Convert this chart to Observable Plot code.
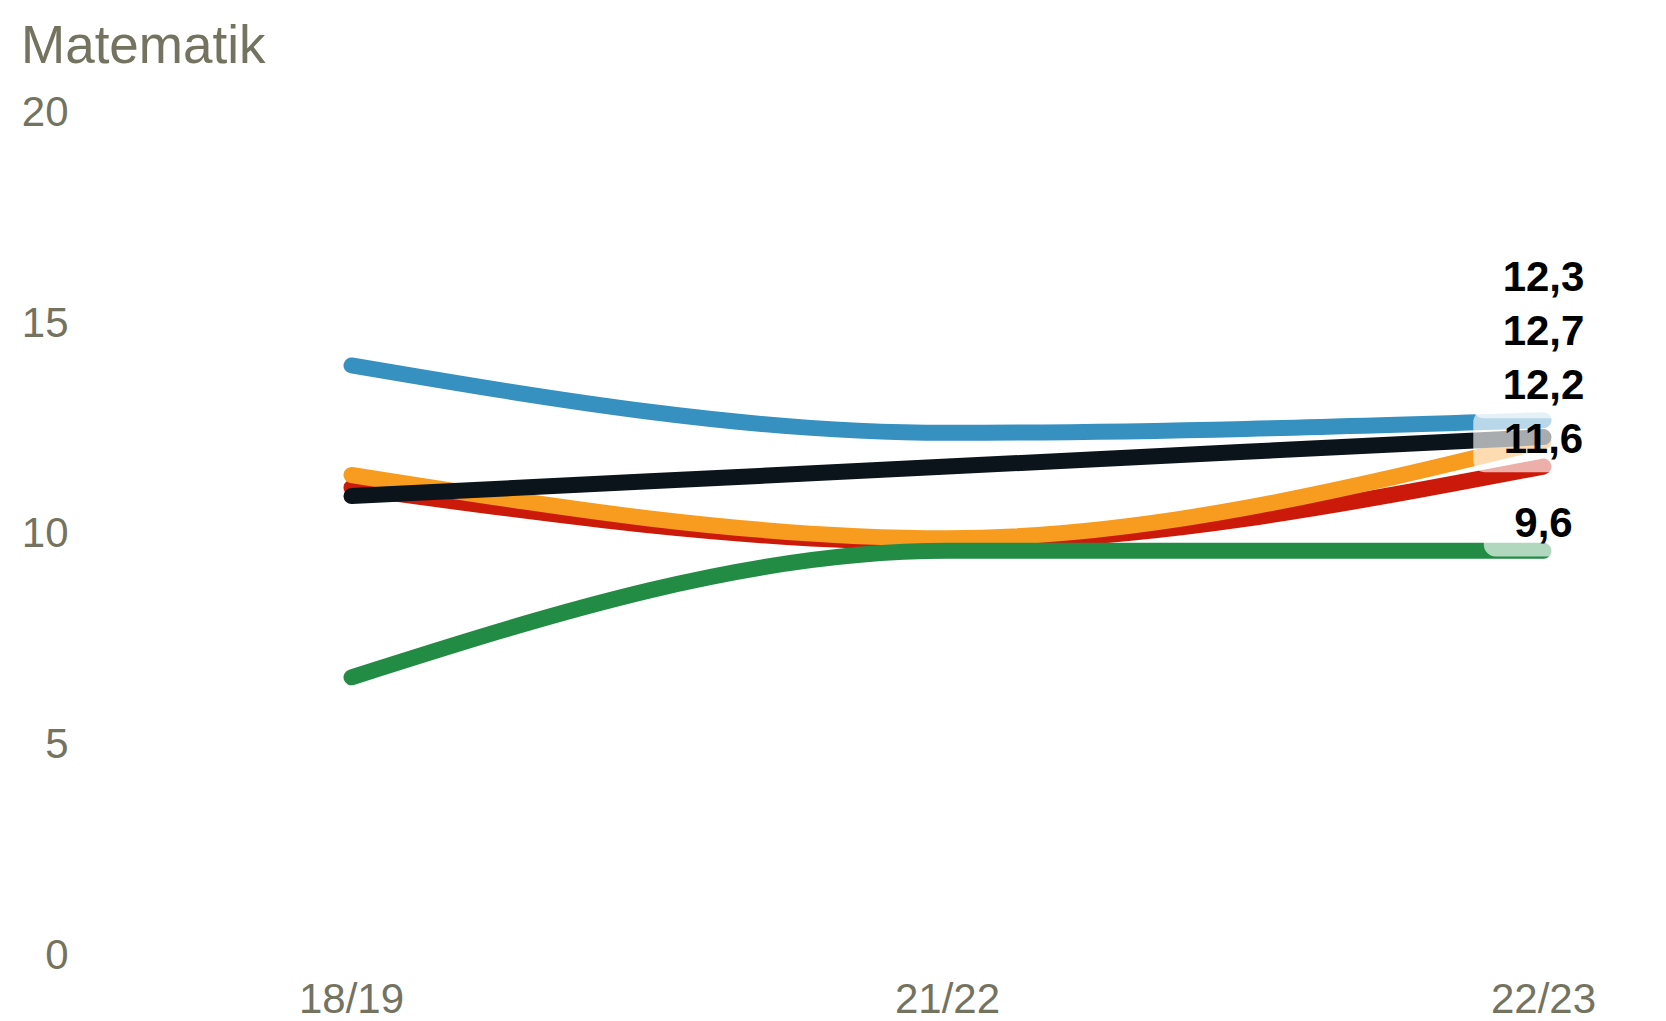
<!DOCTYPE html>
<html>
<head>
<meta charset="utf-8">
<script src="https://cdn.jsdelivr.net/npm/d3@7"></script>
<script src="https://cdn.jsdelivr.net/npm/@observablehq/plot@0.6"></script>
<style>
  body { margin: 0; background: #fff; font-family: "Liberation Sans", Arial, sans-serif; }
  #title { font-size: 53px; line-height: 60px; height: 60px; padding: 15px 0 0 21px; color: #73735f; }
  #chart svg { display: block; }
</style>
</head>
<body>
<div id="title">Matematik</div>
<div id="chart"></div>
<script>
// ---- data ----
const years = ["18/19", "21/22", "22/23"];
const yTicks = [0, 5, 10, 15, 20];
// label stacking order (bottom to top)
const seriesKeys = ["gron", "rod", "orange", "bla", "svart"];
const seriesColors = ["#228c45", "#cc1a0a", "#f89c20", "#3690c0", "#0b131b"];
// drawing order (bottom to top)
const drawOrder = ["rod", "orange", "gron", "bla", "svart"];
const valuesGron = [6.6, 9.6, 9.6];
const valuesRod = [11.1, 9.8, 11.6];
const valuesOrange = [11.4, 9.9, 12.2];
const valuesBla = [14.0, 12.4, 12.7];
const valuesSvart = [10.9, 11.6, 12.3];

const seriesValues = { gron: valuesGron, rod: valuesRod, orange: valuesOrange, bla: valuesBla, svart: valuesSvart };
const colorOf = Object.fromEntries(seriesKeys.map((k, i) => [k, seriesColors[i]]));

const rows = [];
for (const k of seriesKeys) seriesValues[k].forEach((v, i) => rows.push({ serie: k, year: years[i], value: v }));

// end labels, dodged upward in label order
const fmt = v => v.toFixed(1).replace(".", ",");
const lastYear = years[years.length - 1];
const labelOffset = 0.65, labelGap = 1.28;
let prev = -Infinity;
const labels = seriesKeys.map(k => {
  const v = seriesValues[k][years.length - 1];
  const ly = Math.max(v + labelOffset, prev + labelGap);
  prev = ly;
  return { serie: k, year: lastYear, value: v, labelY: ly, text: fmt(v) };
});

// measure label widths for the background boxes
const ctx = document.createElement("canvas").getContext("2d");
ctx.font = "bold 42px 'Liberation Sans', Arial, sans-serif";
const boxSymbol = {
  draw(context, size) {
    const r = Math.sqrt(size / Math.PI);
    const x0 = -r, x1 = r, y0 = -29, y1 = 33, rad = 12;
    context.moveTo(x0 + rad, y0);
    context.lineTo(x1 - rad, y0);
    context.arcTo(x1, y0, x1, y0 + rad, rad);
    context.lineTo(x1, y1 - rad);
    context.arcTo(x1, y1, x1 - rad, y1, rad);
    context.lineTo(x0 + rad, y1);
    context.arcTo(x0, y1, x0, y1 - rad, rad);
    context.lineTo(x0, y0 + rad);
    context.arcTo(x0, y0, x0 + rad, y0, rad);
    context.closePath();
  }
};

const lineMarks = drawOrder.map(k =>
  Plot.line(rows.filter(d => d.serie === k), {
    x: "year", y: "value", stroke: colorOf[k], strokeWidth: 16,
    curve: "monotone-x", strokeLinecap: "round", strokeLinejoin: "round"
  })
);

const boxMarks = labels.map(l =>
  Plot.dot([l], {
    x: "year", y: "labelY", r: ctx.measureText(l.text).width / 2 + 30.5,
    symbol: boxSymbol, fill: "white", fillOpacity: 0.65, stroke: "none"
  })
);

const chart = Plot.plot({
  width: 1666,
  height: 946,
  marginTop: 37,
  marginBottom: 66,
  marginLeft: 350,
  marginRight: 123,
  style: { fontFamily: "'Liberation Sans', Arial, sans-serif", fontSize: "42px", color: "#73735f", background: "white" },
  x: { type: "point", domain: years, padding: 0, tickSize: 0, tickPadding: 28, label: null },
  y: { domain: [0, 20], ticks: yTicks, tickSize: 0, tickPadding: 282, label: null },
  marks: [
    ...lineMarks,
    ...boxMarks,
    Plot.text(labels, {
      x: "year", y: "labelY", text: "text", fill: "black", fontWeight: "bold",
      fontSize: 42, textAnchor: "middle", lineAnchor: "middle"
    })
  ]
});
document.getElementById("chart").appendChild(chart);
</script>
</body>
</html>
